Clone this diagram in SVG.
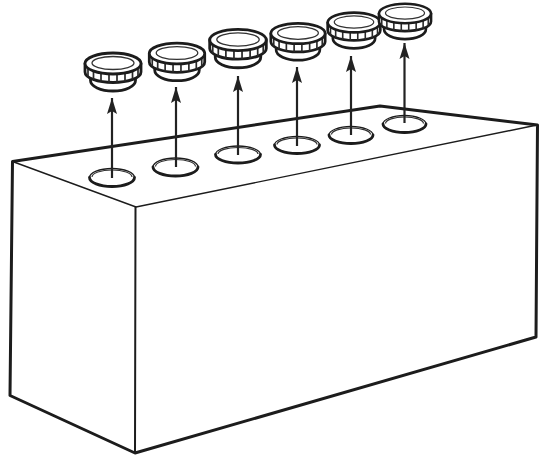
<svg xmlns="http://www.w3.org/2000/svg" width="543" height="458" viewBox="0 0 543 458">
<style>
.ln{fill:none;stroke:#1c1c1c;stroke-linecap:round;stroke-linejoin:round}
.cap{fill:#fff;stroke:#1c1c1c;stroke-width:2.8;stroke-linejoin:round}
.rib{fill:none;stroke:#2a2a2a;stroke-width:1.7}
.arrow{stroke:#222;stroke-width:2.2;fill:none;marker-end:url(#head)}
.hole{fill:#fff;stroke:#1c1c1c;stroke-width:1.300}
.holebot{fill:none;stroke:#1c1c1c;stroke-width:2.800;stroke-linecap:round}
.holein{fill:none;stroke:#333;stroke-width:1.200}
</style>
<defs>
<marker id="head" markerUnits="userSpaceOnUse" markerWidth="18" markerHeight="14" refX="16" refY="6" orient="auto">
<path d="M0,1L16,6L0,11L3,6Z" fill="#222"/>
</marker>
<g id="capshape">
<path class="cap" d="M-22.500,10V17A22.500,10.500 0 0 0 22.500,17V10Z"/>
<path class="cap" d="M-28,0V8.500A28,10.500 0 0 0 28,8.500V0Z"/>
<path class="rib" d="M-25,4V13M-19.500,7V16M-12,9V18M-4,10V19M4,10V19M12,9V18M19.500,7V16M25,4V13"/>
<ellipse class="cap" cx="0" cy="0" rx="28" ry="10.500"/>
<ellipse cx="0" cy="-0.500" rx="21" ry="6.500" fill="#fff" stroke="#333" stroke-width="1.300"/>
</g>
</defs>
<rect width="543" height="458" fill="#fff"/>
<g id="box">
<path class="ln" stroke-width="1.400" d="M12.500,161.500L136,207L537,125"/>
<path class="ln" stroke-width="2" d="M135.500,207L135,453"/>
<path class="ln" stroke-width="3" d="M12.500,161.500L380,106L537.500,125L536,337L135,453L10,395.500Z"/>
</g>
<g id="hole1"><ellipse class="hole" cx="112" cy="177.500" rx="22.500" ry="9"/><path class="holein" d="M92,177A20,7 0 0 1 132,177"/><path class="holebot" d="M89.500,177.500A22.500,9 0 0 0 134.500,177.500"/></g>
<g id="hole2"><ellipse class="hole" cx="175.500" cy="167" rx="22.500" ry="9"/><path class="holein" d="M155.500,166.500A20,7 0 0 1 195.500,166.500"/><path class="holebot" d="M153,167A22.500,9 0 0 0 198,167"/></g>
<g id="hole3"><ellipse class="hole" cx="238" cy="154.500" rx="22.500" ry="8.500"/><path class="holein" d="M218,154A20,6.500 0 0 1 258,154"/><path class="holebot" d="M215.500,154.500A22.500,8.500 0 0 0 260.500,154.500"/></g>
<g id="hole4"><ellipse class="hole" cx="297" cy="145" rx="22.500" ry="8.500"/><path class="holein" d="M277,144.500A20,6.500 0 0 1 317,144.500"/><path class="holebot" d="M274.500,145A22.500,8.500 0 0 0 319.500,145"/></g>
<g id="hole5"><ellipse class="hole" cx="351" cy="135" rx="22" ry="8.500"/><path class="holein" d="M331.500,134.500A19.500,6.500 0 0 1 370.500,134.500"/><path class="holebot" d="M329,135A22,8.500 0 0 0 373,135"/></g>
<g id="hole6"><ellipse class="hole" cx="404.500" cy="124" rx="21.500" ry="8.500"/><path class="holein" d="M385.500,123.500A19,6.500 0 0 1 423.500,123.500"/><path class="holebot" d="M383,124A21.500,8.500 0 0 0 426,124"/></g>
<g id="connectors">
<path class="arrow" d="M112,178V98"/>
<path class="arrow" d="M176,167V87"/>
<path class="arrow" d="M238,155V76"/>
<path class="arrow" d="M297,146V67"/>
<path class="arrow" d="M351,135V56"/>
<path class="arrow" d="M404.500,123V43"/>
</g>
<g id="cap1"><use href="#capshape" transform="translate(113,63.500)"/></g>
<g id="cap2"><use href="#capshape" transform="translate(177,53.500) scale(.99)"/></g>
<g id="cap3"><use href="#capshape" transform="translate(238,40) scale(1.010)"/></g>
<g id="cap4"><use href="#capshape" transform="translate(298,33.500) scale(.97)"/></g>
<g id="cap5"><use href="#capshape" transform="translate(354,22.500) scale(.94)"/></g>
<g id="cap6"><use href="#capshape" transform="translate(405,13.500) scale(.93)"/></g>
</svg>
